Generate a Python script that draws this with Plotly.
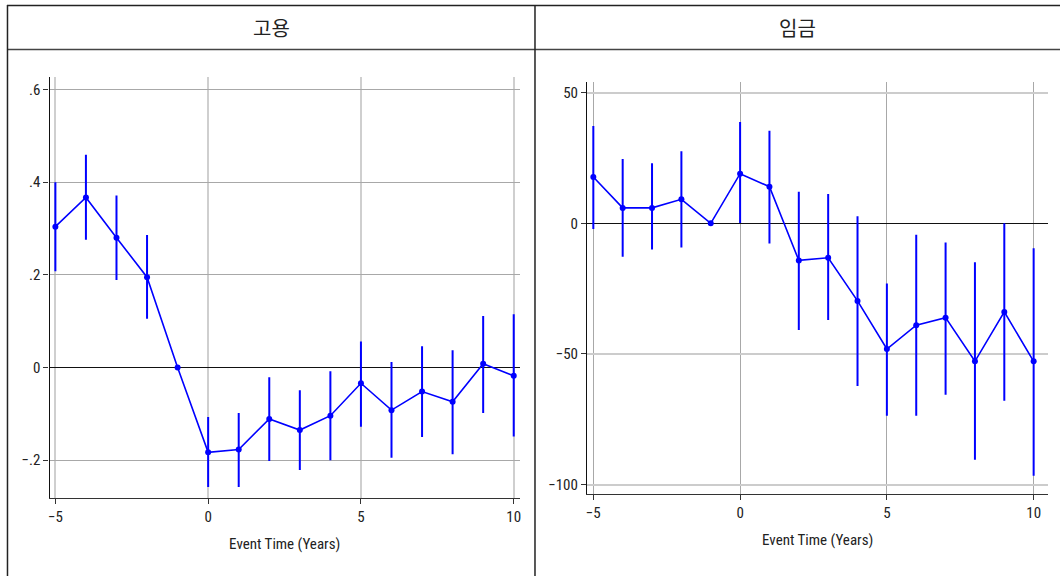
import plotly.graph_objects as go

W, H = 1061, 576

# Event-study estimates
event_time = [-5, -4, -3, -2, -1, 0, 1, 2, 3, 4, 5, 6, 7, 8, 9, 10]

emp_coef = [0.304, 0.367, 0.280, 0.195, 0.0, -0.183, -0.177, -0.111, -0.135, -0.104,
            -0.034, -0.092, -0.052, -0.074, 0.008, -0.018]
emp_hi = [0.400, 0.459, 0.371, 0.286, 0.0, -0.107, -0.098, -0.021, -0.049, -0.008,
          0.056, 0.012, 0.046, 0.037, 0.111, 0.115]
emp_lo = [0.208, 0.276, 0.189, 0.105, 0.0, -0.258, -0.258, -0.202, -0.221, -0.200,
          -0.128, -0.195, -0.150, -0.187, -0.098, -0.149]

wage_coef = [17.7, 5.9, 5.9, 9.2, 0.0, 19.0, 14.0, -14.2, -13.2, -29.7,
             -48.1, -39.0, -36.1, -52.8, -33.9, -52.8]
wage_hi = [37.2, 24.6, 23.0, 27.6, 0.0, 38.8, 35.4, 12.1, 11.2, 2.7,
           -23.0, -4.4, -7.3, -14.9, 0.0, -9.5]
wage_lo = [-2.2, -12.8, -10.0, -9.3, 0.0, 0.1, -7.7, -40.8, -37.0, -62.3,
           -73.6, -73.6, -65.6, -90.5, -67.9, -96.6]

panel_titles = ["고용", "임금"]
x_title = "Event Time (Years)"
x_ticks = [-5, 0, 5, 10]
x_ticklabels = ["\u22125", "0", "5", "10"]
emp_ticks = [-0.2, 0, 0.2, 0.4, 0.6]
emp_ticklabels = ["\u2212.2", "0", ".2", ".4", ".6"]
wage_ticks = [-100, -50, 0, 50]
wage_ticklabels = ["\u2212100", "\u221250", "0", "50"]

BLUE = "#0000ff"
FONT = "Liberation Sans Narrow, Roboto Condensed, Arial Narrow, Liberation Sans, sans-serif"


def px(x):
    return x / W


def py(y):
    return 1 - y / H


fig = go.Figure()


def add_series(coef, hi, lo, xa, ya):
    fig.add_trace(go.Scatter(
        x=event_time, y=coef, mode="lines+markers",
        line=dict(color=BLUE, width=1.6),
        marker=dict(color=BLUE, size=6),
        error_y=dict(type="data", symmetric=False,
                     array=[h - c for h, c in zip(hi, coef)],
                     arrayminus=[c - l for c, l in zip(coef, lo)],
                     color=BLUE, thickness=2, width=0),
        xaxis=xa, yaxis=ya, showlegend=False, hoverinfo="skip",
    ))


add_series(emp_coef, emp_hi, emp_lo, "x", "y")
add_series(wage_coef, wage_hi, wage_lo, "x2", "y2")

tick_font = dict(family=FONT, size=15, color="#222222")
common_x = dict(
    tickmode="array", tickvals=x_ticks, ticktext=x_ticklabels,
    ticks="outside", ticklen=5, tickcolor="#333333", tickwidth=1,
    showline=True, linecolor="#333333", linewidth=1.2,
    zeroline=False, showgrid=True, tickfont=tick_font,
    title=dict(text=x_title, font=dict(family=FONT, size=15, color="#222222"), standoff=13),
)
common_y = dict(
    tickmode="array", ticks="outside", ticklen=5, tickcolor="#333333", tickwidth=1,
    showline=True, linecolor="#111111", linewidth=1.2,
    zeroline=True, zerolinecolor="#111111", zerolinewidth=1.2,
    showgrid=True, tickfont=tick_font,
)

fig.update_layout(
    width=W, height=H,
    margin=dict(l=0, r=0, t=0, b=0),
    paper_bgcolor="white", plot_bgcolor="white",
    xaxis=dict(common_x, domain=[px(47.7), px(519.3)], range=[-5.19, 10.2],
               anchor="y", gridcolor="#cfcfcf", gridwidth=1.5),
    yaxis=dict(common_y, domain=[py(497.7), py(77)], range=[-0.281, 0.627],
               tickvals=emp_ticks, ticktext=emp_ticklabels,
               anchor="x", gridcolor="#a8a8a8", gridwidth=1.2),
    xaxis2=dict(common_x, domain=[px(586.7), px(1049.3)], range=[-5.214, 10.5],
                anchor="y2", gridcolor="#a8a8a8", gridwidth=1),
    yaxis2=dict(common_y, domain=[py(494.3), py(82.3)], range=[-103.7, 53.96],
                tickvals=wage_ticks, ticktext=wage_ticklabels,
                anchor="x2", gridcolor="#cccccc", gridwidth=1.5),
)

# Panel frames and title strips
frame = dict(color="#222222", width=1.5)
shapes = [
    dict(type="line", xref="paper", yref="paper", x0=px(5), x1=1, y0=py(5.5), y1=py(5.5), line=frame),
    dict(type="line", xref="paper", yref="paper", x0=px(5), x1=1, y0=py(49.5), y1=py(49.5),
         line=dict(color="#444444", width=1.5)),
    dict(type="line", xref="paper", yref="paper", x0=px(5.5), x1=px(5.5), y0=py(5), y1=0, line=frame),
    dict(type="line", xref="paper", yref="paper", x0=px(534.5), x1=px(534.5), y0=py(5), y1=0, line=frame),
]
fig.update_layout(shapes=shapes)

title_font = dict(family="Noto Sans CJK KR, sans-serif", size=20, color="#222222")
fig.add_annotation(x=px(270), y=py(27.5), xref="paper", yref="paper", text=panel_titles[0],
                   showarrow=False, font=title_font, xanchor="center", yanchor="middle")
fig.add_annotation(x=px(798), y=py(27.5), xref="paper", yref="paper", text=panel_titles[1],
                   showarrow=False, font=title_font, xanchor="center", yanchor="middle")

fig.write_html("out.html")
